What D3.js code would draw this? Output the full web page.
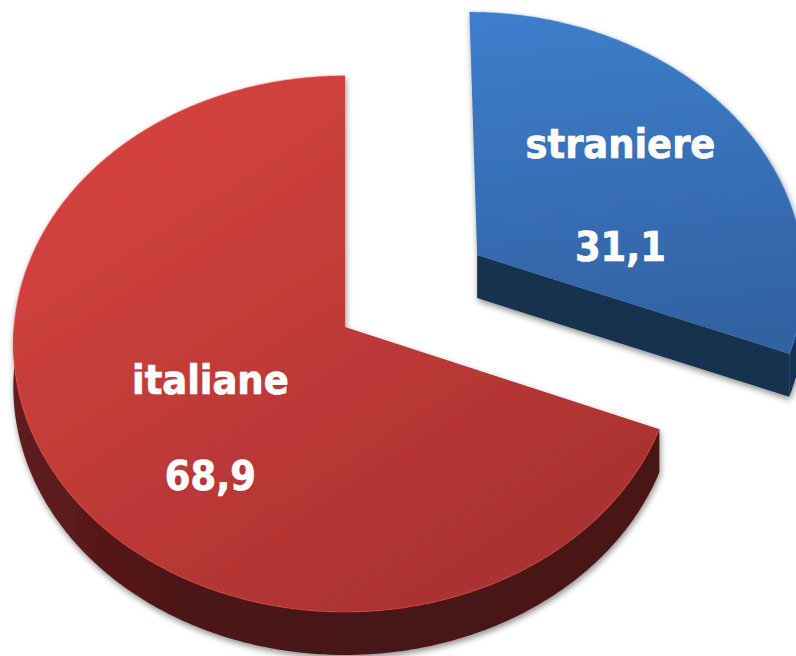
<!DOCTYPE html>
<html>
<head>
<meta charset="utf-8">
<title>Pie 3D</title>
<style>
  body { margin: 0; background: #fff; }
  .lbl { font-family: 'DejaVu Sans Condensed', 'DejaVu Sans', sans-serif; font-stretch: condensed; font-weight: bold; font-size: 41px; fill: #fff; stroke: #fff; stroke-width: 0.7px; text-anchor: middle; }
</style>
<script src="https://cdn.jsdelivr.net/npm/d3@7"></script>
</head>
<body>
<script>
// data
var categories = ["straniere", "italiane"];
var values = [31.1, 68.9];
var valueLabels = ["31,1", "68,9"];
var explode = [0.49, 0];   // pull-out of each slice, in radius units

var width = 796, height = 656;

// colours: top light / top dark / side
var topLight = ["#3e7ecc", "#d5433f"];
var topDark  = ["#3162a2", "#a83131"];
var sideCol  = ["#17304f", "#461414"];

// projection of the tilted disc (slight perspective)
var CX = 345, CY = 327, R = 331, A = 267, B = -0.063, DEPTH = 43;

function proj(u, v, dz) {
  var s = 1 / (1 + B * v);
  return [CX + R * u * s, CY + A * v * s + (dz || 0)];
}
function onDisc(o, a, r, dz) {
  return proj(o[0] + r * Math.sin(a), o[1] - r * Math.cos(a), dz);
}
function arcPts(o, a0, a1, dz) {
  var n = Math.max(2, Math.ceil((a1 - a0) / 0.01));
  return d3.range(n + 1).map(function(i) { return onDisc(o, a0 + (a1 - a0) * i / n, 1, dz); });
}

var svg = d3.select("body").append("svg")
  .attr("width", width).attr("height", height);

var defs = svg.append("defs");
var f = defs.append("filter").attr("id", "shadow")
  .attr("x", "-10%").attr("y", "-10%").attr("width", "120%").attr("height", "120%");
f.append("feGaussianBlur").attr("in", "SourceAlpha").attr("stdDeviation", 3).attr("result", "b");
f.append("feOffset").attr("in", "b").attr("dx", 1).attr("dy", 3).attr("result", "o");
f.append("feComponentTransfer").attr("in", "o").attr("result", "s")
  .append("feFuncA").attr("type", "linear").attr("slope", 0.45);
var fm = f.append("feMerge");
fm.append("feMergeNode").attr("in", "s");
fm.append("feMergeNode").attr("in", "SourceGraphic");

var pie = d3.pie().sort(null).value(function(d) { return d; });
var slices = pie(values).map(function(p, i) {
  var mid = (p.startAngle + p.endAngle) / 2;
  p.i = i;
  p.mid = mid;
  p.off = [explode[i] * Math.sin(mid), -explode[i] * Math.cos(mid)];
  return p;
});

// gradients
slices.forEach(function(p) {
  var i = p.i;
  var top = onDisc(p.off, 0, 1), bot = onDisc(p.off, Math.PI, 1);
  var g = defs.append("linearGradient").attr("id", "top" + i)
    .attr("gradientUnits", "userSpaceOnUse");
  if (i === 0) {
    g.attr("x1", top[0]).attr("y1", top[1]).attr("x2", top[0] + 40).attr("y2", top[1] + 350);
  } else {
    g.attr("x1", top[0] - 200).attr("y1", top[1]).attr("x2", bot[0] + 150).attr("y2", bot[1]);
  }
  g.append("stop").attr("offset", 0).attr("stop-color", topLight[i]);
  g.append("stop").attr("offset", 1).attr("stop-color", topDark[i]);

  var l = onDisc(p.off, 1.5 * Math.PI, 1), r = onDisc(p.off, 0.5 * Math.PI, 1);
  var s = defs.append("linearGradient").attr("id", "side" + i)
    .attr("gradientUnits", "userSpaceOnUse")
    .attr("x1", l[0]).attr("y1", 0).attr("x2", r[0]).attr("y2", 0);
  var c = d3.rgb(sideCol[i]);
  s.append("stop").attr("offset", 0).attr("stop-color", c.brighter(0.9));
  s.append("stop").attr("offset", 0.25).attr("stop-color", c.brighter(0.3));
  s.append("stop").attr("offset", 0.55).attr("stop-color", c);
  s.append("stop").attr("offset", 1).attr("stop-color", c.brighter(0.15));
});

var line = d3.line();

// back slices first
slices.slice().sort(function(a, b) { return a.off[1] - b.off[1]; }).forEach(function(p) {
  var i = p.i, o = p.off;
  var g = svg.append("g").attr("filter", "url(#shadow)");
  var apex = proj(o[0], o[1]), apexB = proj(o[0], o[1], DEPTH);

  // radial walls facing the viewer
  if (Math.sin(p.startAngle) < -1e-6) {
    var s0 = onDisc(o, p.startAngle, 1), s1 = onDisc(o, p.startAngle, 1, DEPTH);
    g.append("path").attr("d", line([apex, s0, s1, apexB]) + "Z").attr("fill", sideCol[i]);
  }
  if (Math.sin(p.endAngle) > 1e-6) {
    var e0 = onDisc(o, p.endAngle, 1), e1 = onDisc(o, p.endAngle, 1, DEPTH);
    g.append("path").attr("d", line([apex, e0, e1, apexB]) + "Z").attr("fill", sideCol[i]);
  }

  // outer wall, front half only
  var a0 = Math.max(p.startAngle, Math.PI / 2), a1 = Math.min(p.endAngle, 1.5 * Math.PI);
  if (a1 > a0) {
    var pts = arcPts(o, a0, a1, 0).concat(arcPts(o, a0, a1, DEPTH).reverse());
    g.append("path").attr("d", line(pts) + "Z").attr("fill", "url(#side" + i + ")");
  }

  // top face
  var topPts = [apex].concat(arcPts(o, p.startAngle, p.endAngle, 0));
  g.append("path").attr("d", line(topPts) + "Z").attr("fill", "url(#top" + i + ")");
  // soft rim
  g.append("path").attr("d", line(arcPts(o, p.startAngle, p.endAngle, 0)))
    .attr("fill", "none").attr("stroke", d3.rgb(topLight[i]).brighter(0.4))
    .attr("stroke-opacity", 0.35).attr("stroke-width", 1.5);
});

// labels
var nudge = [[13, -26, 77], [5, -9, 87]];
slices.forEach(function(p) {
  var c = onDisc(p.off, p.mid, 0.5);
  var n = nudge[p.i];
  svg.append("text").attr("class", "lbl")
    .attr("x", c[0] + n[0]).attr("y", c[1] + n[1]).text(categories[p.i]);
  svg.append("text").attr("class", "lbl")
    .attr("x", c[0] + n[0]).attr("y", c[1] + n[2]).text(valueLabels[p.i]);
});
</script>
</body>
</html>
